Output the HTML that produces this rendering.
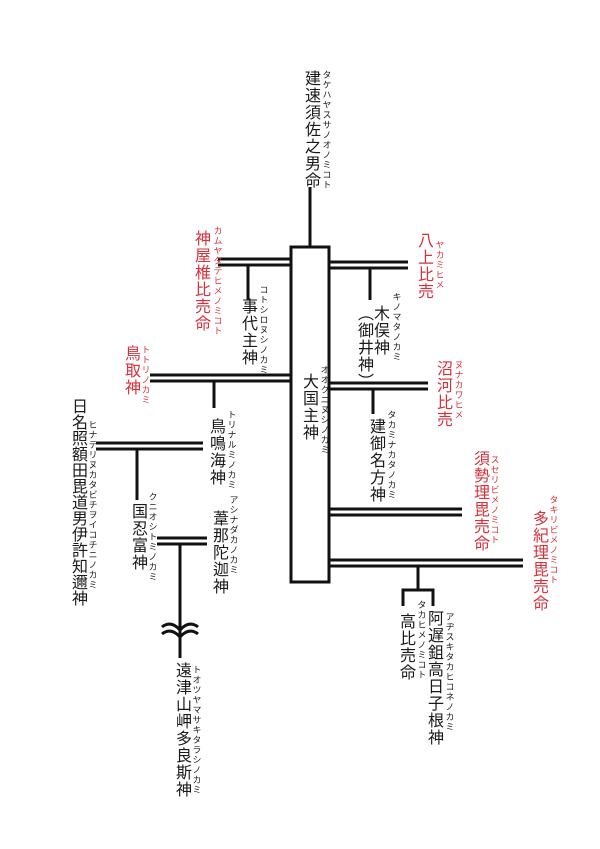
<!DOCTYPE html>
<html><head><meta charset="utf-8"><style>
html,body{margin:0;padding:0;background:#fff;}
body{width:600px;height:849px;position:relative;overflow:hidden;font-family:"Liberation Sans","Noto Sans CJK JP",sans-serif;color:#1a1a1a;}
.v{position:absolute;writing-mode:vertical-rl;font-size:16px;line-height:1;letter-spacing:1px;white-space:nowrap;transform:translateX(-50%);}
.r{position:absolute;writing-mode:vertical-rl;font-size:9px;line-height:1;letter-spacing:1px;white-space:nowrap;transform:translateX(-50%);margin-left:3px;}
.red{color:#d6323c;}
svg{position:absolute;left:0;top:0;}
</style></head><body>
<svg width="600" height="849" stroke="#111" stroke-width="3" fill="none">
<line x1="310" y1="187" x2="310" y2="247"/>
<rect x="291" y="247" width="38" height="335"/>
<line x1="218" y1="259" x2="291" y2="259"/><line x1="218" y1="265" x2="291" y2="265"/>
<line x1="248" y1="265" x2="248" y2="300"/>
<line x1="329" y1="262" x2="408" y2="262"/><line x1="329" y1="268" x2="408" y2="268"/>
<line x1="370" y1="268" x2="370" y2="300"/>
<line x1="150" y1="375" x2="291" y2="375"/><line x1="150" y1="381" x2="291" y2="381"/>
<line x1="214" y1="381" x2="214" y2="408"/>
<line x1="329" y1="383" x2="428" y2="383"/><line x1="329" y1="389" x2="428" y2="389"/>
<line x1="373" y1="389" x2="373" y2="414"/>
<line x1="96" y1="443" x2="203" y2="443"/><line x1="96" y1="449" x2="203" y2="449"/>
<line x1="137" y1="449" x2="137" y2="500"/>
<line x1="157" y1="538" x2="207" y2="538"/><line x1="157" y1="544" x2="207" y2="544"/>
<line x1="180" y1="544" x2="180" y2="658"/>
<path d="M162 627 Q171 620 180 630 Q189 620 198 627"/>
<path d="M162 634 Q171 627 180 637 Q189 627 198 634"/>
<line x1="329" y1="509" x2="462" y2="509"/><line x1="329" y1="515" x2="462" y2="515"/>
<line x1="329" y1="560" x2="523" y2="560"/><line x1="329" y1="566" x2="523" y2="566"/>
<line x1="418" y1="566" x2="418" y2="590"/>
<path d="M403 606 V590 H433 V606"/>
</svg>

<div class="v" style="left:310px;top:70px">建速須佐之男命</div><div class="r" style="left:323px;top:70px">タケハヤスサノオノミコト</div>
<div class="v red" style="left:200px;top:230px">神屋椎比売命</div><div class="r red" style="left:214px;top:226px">カムヤタテヒメノミコト</div>
<div class="v red" style="left:423px;top:232px">八上比売</div><div class="r red" style="left:436px;top:240px">ヤカミヒメ</div>
<div class="v" style="left:247px;top:298px">事代主神</div><div class="r" style="left:260px;top:285px">コトシロヌシノカミ</div>
<div class="v" style="left:379px;top:305px">木俣神</div><div class="v" style="left:363px;top:305px">（御井神）</div><div class="r" style="left:393px;top:292px">キノマタノカミ</div>
<div class="v" style="left:308px;top:373px">大国主神</div><div class="r" style="left:321px;top:365px">オオクニヌシノカミ</div>
<div class="v red" style="left:130px;top:345px">鳥取神</div><div class="r red" style="left:142px;top:345px">トトリノカミ</div>
<div class="v" style="left:215px;top:418px">鳥鳴海神</div><div class="r" style="left:228px;top:410px">トリナルミノカミ</div>
<div class="v" style="left:77px;top:398px;letter-spacing:0">日名照額田毘道男伊許知邇神</div><div class="r" style="left:89px;top:420px">ヒナテリヌカタビチヲイコチニノカミ</div>
<div class="v" style="left:137px;top:503px">国忍富神</div><div class="r" style="left:149px;top:492px">クニオシトミノカミ</div>
<div class="v" style="left:218px;top:510px">葦那陀迦神</div><div class="r" style="left:230px;top:495px">アシナダカノカミ</div>
<div class="v" style="left:181px;top:662px">遠津山岬多良斯神</div><div class="r" style="left:193px;top:665px">トオツヤマサキタラシノカミ</div>
<div class="v red" style="left:442px;top:360px">沼河比売</div><div class="r red" style="left:455px;top:360px">ヌナカワヒメ</div>
<div class="v" style="left:375px;top:418px">建御名方神</div><div class="r" style="left:388px;top:410px">タカミナカタノカミ</div>
<div class="v red" style="left:479px;top:450px">須勢理毘売命</div><div class="r red" style="left:491px;top:455px">スセリビメノミコト</div>
<div class="v red" style="left:538px;top:510px">多紀理毘売命</div><div class="r red" style="left:550px;top:495px">タキリビメノミコト</div>
<div class="v" style="left:405px;top:613px">高比売命</div><div class="r" style="left:418px;top:600px">タカヒメノミコト</div>
<div class="v" style="left:433px;top:610px">阿遅鉏高日子根神</div><div class="r" style="left:446px;top:612px">アヂスキタカヒコネノカミ</div>
</body></html>
